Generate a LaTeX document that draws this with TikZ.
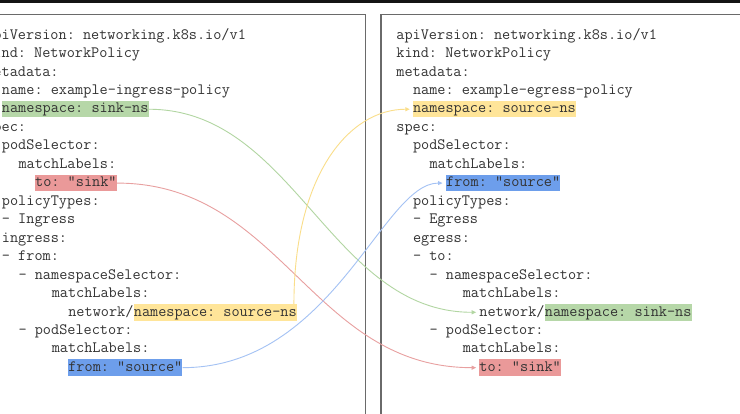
\documentclass[tikz,border=0pt]{standalone}
\usepackage{fontspec}
\usetikzlibrary{arrows.meta}
\definecolor{txt}{HTML}{333333}
\definecolor{hlgreen}{HTML}{B6D7A8}
\definecolor{hlyellow}{HTML}{FFE599}
\definecolor{hlred}{HTML}{EA9999}
\definecolor{hlblue}{HTML}{6D9EEB}
\definecolor{lngreen}{HTML}{B2D6A2}
\definecolor{lnyellow}{HTML}{FADE8A}
\definecolor{lnred}{HTML}{E8A0A0}
\definecolor{lnblue}{HTML}{A4C2F4}
\definecolor{framec}{HTML}{6A6A6A}
\newcommand\codeline[5]{\node[code] (#1) at ({#2+#3*8.3},{39.15+#4*18.46}) {#5};}
\newcommand\hlline[6]{\node[hl=#6] (#1) at ({#2+#3*8.3},{39.15+#4*18.46}) {#5};}
\begin{document}
\begin{tikzpicture}[x=1pt,y=-1pt,
  code/.style={anchor=base west, inner sep=0pt, text=txt, text height=12pt, text depth=4.5pt,
    font=\ttfamily\frenchspacing\fontsize{15.81}{18}\selectfont},
  hl/.style={code, fill=#1},
  link/.style={draw=#1, line width=0.9pt, -{Triangle[length=4.5pt,width=4pt]}},
  panel/.style={draw=framec, line width=1.4pt, fill=white}]
\clip (0,0) rectangle (740,414);
\fill[white] (0,0) rectangle (740,414);
\fill[black!92] (0,0) rectangle (740,3.5);
\draw[panel] (-40,14.5) rectangle (365.5,470);
\draw[panel] (381,14.5) rectangle (790,470);
% left panel
\def\mL{-14.85}
\codeline{l0}{\mL}{0}{0}{apiVersion: networking.k8s.io/v1}
\codeline{l1}{\mL}{0}{1}{kind: NetworkPolicy}
\codeline{l2}{\mL}{0}{2}{metadata:}
\codeline{l3}{\mL}{2}{3}{name: example-ingress-policy}
\hlline{lgns}{\mL}{2}{4}{namespace: sink-ns}{hlgreen}
\codeline{l5}{\mL}{0}{5}{spec:}
\codeline{l6}{\mL}{2}{6}{podSelector:}
\codeline{l7}{\mL}{4}{7}{matchLabels:}
\hlline{lsink}{\mL}{6}{8}{to: "sink"}{hlred}
\codeline{l9}{\mL}{2}{9}{policyTypes:}
\codeline{l10}{\mL}{2}{10}{- Ingress}
\codeline{l11}{\mL}{2}{11}{ingress:}
\codeline{l12}{\mL}{2}{12}{- from:}
\codeline{l13}{\mL}{4}{13}{- namespaceSelector:}
\codeline{l14}{\mL}{8}{14}{matchLabels:}
\codeline{lnet}{\mL}{10}{15}{network/}
\node[hl=hlyellow] (lyns) at (lnet.base east) {namespace: source-ns};
\codeline{l16}{\mL}{4}{16}{- podSelector:}
\codeline{l17}{\mL}{8}{17}{matchLabels:}
\hlline{lsrc}{\mL}{10}{18}{from: "source"}{hlblue}
% right panel
\def\mR{396.2}
\codeline{r0}{\mR}{0}{0}{apiVersion: networking.k8s.io/v1}
\codeline{r1}{\mR}{0}{1}{kind: NetworkPolicy}
\codeline{r2}{\mR}{0}{2}{metadata:}
\codeline{r3}{\mR}{2}{3}{name: example-egress-policy}
\hlline{rns}{\mR}{2}{4}{namespace: source-ns}{hlyellow}
\codeline{r5}{\mR}{0}{5}{spec:}
\codeline{r6}{\mR}{2}{6}{podSelector:}
\codeline{r7}{\mR}{4}{7}{matchLabels:}
\hlline{rsrc}{\mR}{6}{8}{from: "source"}{hlblue}
\codeline{r9}{\mR}{2}{9}{policyTypes:}
\codeline{r10}{\mR}{2}{10}{- Egress}
\codeline{r11}{\mR}{2}{11}{egress:}
\codeline{r12}{\mR}{2}{12}{- to:}
\codeline{r13}{\mR}{4}{13}{- namespaceSelector:}
\codeline{r14}{\mR}{8}{14}{matchLabels:}
\codeline{rnet}{\mR}{10}{15}{network/}
\node[hl=hlgreen] (rgns) at (rnet.base east) {namespace: sink-ns};
\codeline{r16}{\mR}{4}{16}{- podSelector:}
\codeline{r17}{\mR}{8}{17}{matchLabels:}
\hlline{rsink}{\mR}{10}{18}{to: "sink"}{hlred}
% connectors
\draw[link=lngreen] (lgns.east) .. controls +(146,0) and +(-146,0) .. ([xshift=-3pt]rnet.west);
\draw[link=lnred] (lsink.east) .. controls +(165,0) and +(-165,0) .. ([xshift=-3pt]rsink.west);
\draw[link=lnyellow] ([xshift=-3pt]lyns.north east) .. controls +(0,-130) and +(-60,0) .. ([xshift=-3pt]rns.west);
\draw[link=lnblue] (lsrc.east) .. controls +(150,0) and +(-60,0) .. ([xshift=-3.5pt]rsrc.west);
\end{tikzpicture}
\end{document}
